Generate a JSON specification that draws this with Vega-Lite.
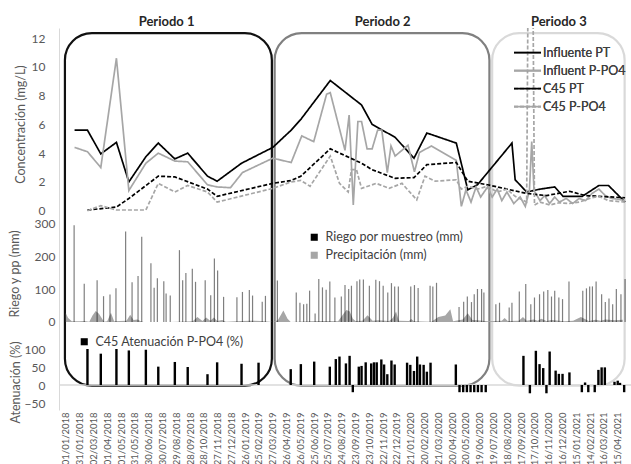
{
"$schema": "https://vega.github.io/schema/vega-lite/v6.json",
"width": 572, "height": 382,
"autosize": {"type": "none"},
"padding": {"left": 59, "top": 28, "right": 0, "bottom": 54},
"config": {
  "view": {"stroke": null},
  "font": "Lato",
  "axis": {"labelFont": "Lato", "titleFont": "Lato", "labelColor": "#595959", "titleColor": "#595959", "titleFontWeight": "normal", "grid": false, "ticks": false, "labelFontSize": 12, "titleFontSize": 12.5},
  "axisX": {"labelOverlap": false, "labelFlush": false, "labelBound": false, "labelAngle": -90, "labelFontSize": 9.5, "labelPadding": 2, "domain": false, "ticks": false},
  "legend": {"labelFont": "Lato", "labelColor": "#404040", "labelFontSize": 12.5, "padding": 0}
},
"datasets": {
  "conc": [
    {"f":"2018-01-20","s":"Influente PT","v":5.6},{"f":"2018-02-17","s":"Influente PT","v":5.6},{"f":"2018-03-18","s":"Influente PT","v":3.95},{"f":"2018-04-21","s":"Influente PT","v":4.75},{"f":"2018-05-18","s":"Influente PT","v":2.0},{"f":"2018-06-24","s":"Influente PT","v":3.75},{"f":"2018-07-21","s":"Influente PT","v":4.7},{"f":"2018-08-26","s":"Influente PT","v":3.6},{"f":"2018-09-23","s":"Influente PT","v":4.0},{"f":"2018-11-05","s":"Influente PT","v":2.4},{"f":"2018-11-26","s":"Influente PT","v":2.05},{"f":"2019-01-18","s":"Influente PT","v":3.3},{"f":"2019-03-27","s":"Influente PT","v":4.4},{"f":"2019-05-06","s":"Influente PT","v":5.6},{"f":"2019-05-27","s":"Influente PT","v":6.35},{"f":"2019-07-30","s":"Influente PT","v":9.05},{"f":"2019-10-06","s":"Influente PT","v":7.35},{"f":"2019-10-29","s":"Influente PT","v":6.0},{"f":"2019-12-18","s":"Influente PT","v":5.1},{"f":"2020-01-28","s":"Influente PT","v":3.65},{"f":"2020-02-25","s":"Influente PT","v":5.4},{"f":"2020-04-29","s":"Influente PT","v":4.7},{"f":"2020-05-24","s":"Influente PT","v":1.45},{"f":"2020-06-14","s":"Influente PT","v":1.8},{"f":"2020-08-28","s":"Influente PT","v":4.7},{"f":"2020-09-04","s":"Influente PT","v":2.15},{"f":"2020-09-29","s":"Influente PT","v":1.3},{"f":"2020-10-28","s":"Influente PT","v":1.5},{"f":"2020-11-29","s":"Influente PT","v":1.65},{"f":"2020-12-17","s":"Influente PT","v":1.0},{"f":"2021-01-28","s":"Influente PT","v":1.0},{"f":"2021-03-05","s":"Influente PT","v":1.75},{"f":"2021-03-26","s":"Influente PT","v":1.75},{"f":"2021-05-01","s":"Influente PT","v":0.6},
    {"f":"2018-01-20","s":"Influent P-PO4","v":4.4},{"f":"2018-02-17","s":"Influent P-PO4","v":4.1},{"f":"2018-03-18","s":"Influent P-PO4","v":3.0},{"f":"2018-04-21","s":"Influent P-PO4","v":10.6},{"f":"2018-05-18","s":"Influent P-PO4","v":1.4},{"f":"2018-06-24","s":"Influent P-PO4","v":3.3},{"f":"2018-07-21","s":"Influent P-PO4","v":4.0},{"f":"2018-08-26","s":"Influent P-PO4","v":3.45},{"f":"2018-09-23","s":"Influent P-PO4","v":3.4},{"f":"2018-11-05","s":"Influent P-PO4","v":1.8},{"f":"2018-11-26","s":"Influent P-PO4","v":1.65},{"f":"2018-12-25","s":"Influent P-PO4","v":1.6},{"f":"2019-01-20","s":"Influent P-PO4","v":2.65},{"f":"2019-03-27","s":"Influent P-PO4","v":3.65},{"f":"2019-05-06","s":"Influent P-PO4","v":3.35},{"f":"2019-05-29","s":"Influent P-PO4","v":5.2},{"f":"2019-06-24","s":"Influent P-PO4","v":4.8},{"f":"2019-07-22","s":"Influent P-PO4","v":8.1},{"f":"2019-07-30","s":"Influent P-PO4","v":8.2},{"f":"2019-08-31","s":"Influent P-PO4","v":4.2},{"f":"2019-09-09","s":"Influent P-PO4","v":6.65},{"f":"2019-09-18","s":"Influent P-PO4","v":0.4},{"f":"2019-09-28","s":"Influent P-PO4","v":6.2},{"f":"2019-10-06","s":"Influent P-PO4","v":6.2},{"f":"2019-10-18","s":"Influent P-PO4","v":4.3},{"f":"2019-10-29","s":"Influent P-PO4","v":4.3},{"f":"2019-11-10","s":"Influent P-PO4","v":5.6},{"f":"2019-11-19","s":"Influent P-PO4","v":5.6},{"f":"2019-12-01","s":"Influent P-PO4","v":2.65},{"f":"2019-12-09","s":"Influent P-PO4","v":4.5},{"f":"2019-12-18","s":"Influent P-PO4","v":3.8},{"f":"2020-01-15","s":"Influent P-PO4","v":4.55},{"f":"2020-01-29","s":"Influent P-PO4","v":2.7},{"f":"2020-02-09","s":"Influent P-PO4","v":4.05},{"f":"2020-03-06","s":"Influent P-PO4","v":4.5},{"f":"2020-04-29","s":"Influent P-PO4","v":3.5},{"f":"2020-05-10","s":"Influent P-PO4","v":0.3},{"f":"2020-05-20","s":"Influent P-PO4","v":1.45},{"f":"2020-05-31","s":"Influent P-PO4","v":0.6},{"f":"2020-06-11","s":"Influent P-PO4","v":1.65},{"f":"2020-06-21","s":"Influent P-PO4","v":0.95},{"f":"2020-07-06","s":"Influent P-PO4","v":1.65},{"f":"2020-07-16","s":"Influent P-PO4","v":0.95},{"f":"2020-07-27","s":"Influent P-PO4","v":1.5},{"f":"2020-08-06","s":"Influent P-PO4","v":0.7},{"f":"2020-08-17","s":"Influent P-PO4","v":1.3},{"f":"2020-09-01","s":"Influent P-PO4","v":0.5},{"f":"2020-09-15","s":"Influent P-PO4","v":0.95},{"f":"2020-09-26","s":"Influent P-PO4","v":0.3},{"f":"2020-10-05","s":"Influent P-PO4","v":1.4},{"f":"2020-10-10","s":"Influent P-PO4","v":4.8},{"f":"2020-10-15","s":"Influent P-PO4","v":1.4},{"f":"2020-10-28","s":"Influent P-PO4","v":0.7},{"f":"2020-11-07","s":"Influent P-PO4","v":1.05},{"f":"2020-11-18","s":"Influent P-PO4","v":0.5},{"f":"2020-11-29","s":"Influent P-PO4","v":0.95},{"f":"2020-12-09","s":"Influent P-PO4","v":0.6},{"f":"2020-12-24","s":"Influent P-PO4","v":0.85},{"f":"2021-01-07","s":"Influent P-PO4","v":0.5},{"f":"2021-01-21","s":"Influent P-PO4","v":0.85},{"f":"2021-02-04","s":"Influent P-PO4","v":0.7},{"f":"2021-02-18","s":"Influent P-PO4","v":1.2},{"f":"2021-03-05","s":"Influent P-PO4","v":1.5},{"f":"2021-03-19","s":"Influent P-PO4","v":1.05},{"f":"2021-04-02","s":"Influent P-PO4","v":0.85},{"f":"2021-04-16","s":"Influent P-PO4","v":0.8},{"f":"2021-05-01","s":"Influent P-PO4","v":0.7},
    {"f":"2018-02-17","s":"C45 PT","v":0.05},{"f":"2018-04-21","s":"C45 PT","v":0.25},{"f":"2018-05-18","s":"C45 PT","v":0.85},{"f":"2018-07-21","s":"C45 PT","v":2.4},{"f":"2018-08-26","s":"C45 PT","v":2.35},{"f":"2018-11-05","s":"C45 PT","v":1.5},{"f":"2018-11-26","s":"C45 PT","v":1.0},{"f":"2019-03-27","s":"C45 PT","v":1.9},{"f":"2019-05-06","s":"C45 PT","v":2.1},{"f":"2019-05-27","s":"C45 PT","v":2.4},{"f":"2019-07-30","s":"C45 PT","v":4.3},{"f":"2019-10-06","s":"C45 PT","v":3.3},{"f":"2019-10-29","s":"C45 PT","v":2.85},{"f":"2019-12-18","s":"C45 PT","v":2.25},{"f":"2020-01-28","s":"C45 PT","v":2.3},{"f":"2020-02-25","s":"C45 PT","v":3.2},{"f":"2020-04-29","s":"C45 PT","v":3.35},{"f":"2020-05-24","s":"C45 PT","v":2.05},{"f":"2020-07-06","s":"C45 PT","v":1.8},{"f":"2020-09-29","s":"C45 PT","v":1.2},{"f":"2020-11-11","s":"C45 PT","v":1.05},{"f":"2020-12-31","s":"C45 PT","v":1.35},{"f":"2021-02-04","s":"C45 PT","v":1.05},{"f":"2021-05-01","s":"C45 PT","v":0.9},
    {"f":"2018-02-17","s":"C45 P-PO4","v":0.0},{"f":"2018-03-18","s":"C45 P-PO4","v":0.35},{"f":"2018-04-21","s":"C45 P-PO4","v":0.05},{"f":"2018-05-18","s":"C45 P-PO4","v":0.05},{"f":"2018-06-24","s":"C45 P-PO4","v":0.05},{"f":"2018-07-21","s":"C45 P-PO4","v":1.9},{"f":"2018-08-26","s":"C45 P-PO4","v":1.3},{"f":"2018-09-23","s":"C45 P-PO4","v":1.75},{"f":"2018-11-05","s":"C45 P-PO4","v":1.3},{"f":"2018-11-26","s":"C45 P-PO4","v":0.6},{"f":"2019-03-27","s":"C45 P-PO4","v":1.55},{"f":"2019-05-06","s":"C45 P-PO4","v":2.0},{"f":"2019-05-27","s":"C45 P-PO4","v":2.1},{"f":"2019-06-16","s":"C45 P-PO4","v":1.7},{"f":"2019-07-30","s":"C45 P-PO4","v":3.8},{"f":"2019-08-19","s":"C45 P-PO4","v":1.9},{"f":"2019-09-07","s":"C45 P-PO4","v":1.3},{"f":"2019-09-14","s":"C45 P-PO4","v":2.85},{"f":"2019-09-25","s":"C45 P-PO4","v":2.85},{"f":"2019-10-06","s":"C45 P-PO4","v":1.55},{"f":"2019-11-07","s":"C45 P-PO4","v":1.9},{"f":"2019-12-05","s":"C45 P-PO4","v":1.55},{"f":"2020-01-02","s":"C45 P-PO4","v":1.9},{"f":"2020-02-03","s":"C45 P-PO4","v":0.75},{"f":"2020-02-21","s":"C45 P-PO4","v":2.4},{"f":"2020-03-14","s":"C45 P-PO4","v":2.05},{"f":"2020-04-29","s":"C45 P-PO4","v":2.15},{"f":"2020-05-10","s":"C45 P-PO4","v":1.5},{"f":"2020-05-24","s":"C45 P-PO4","v":1.7},{"f":"2020-06-14","s":"C45 P-PO4","v":1.5},{"f":"2020-07-06","s":"C45 P-PO4","v":1.7},{"f":"2020-07-27","s":"C45 P-PO4","v":1.3},{"f":"2020-08-17","s":"C45 P-PO4","v":1.5},{"f":"2020-09-04","s":"C45 P-PO4","v":1.0},{"f":"2020-09-29","s":"C45 P-PO4","v":0.6},{"f":"2020-10-07","s":"C45 P-PO4","v":40},{"f":"2020-10-16","s":"C45 P-PO4","v":0.4},{"f":"2020-10-28","s":"C45 P-PO4","v":0.6},{"f":"2020-11-18","s":"C45 P-PO4","v":0.4},{"f":"2020-12-09","s":"C45 P-PO4","v":0.55},{"f":"2020-12-31","s":"C45 P-PO4","v":0.5},{"f":"2021-01-21","s":"C45 P-PO4","v":0.6},{"f":"2021-02-18","s":"C45 P-PO4","v":0.9},{"f":"2021-03-05","s":"C45 P-PO4","v":1.0},{"f":"2021-03-26","s":"C45 P-PO4","v":0.7},{"f":"2021-05-01","s":"C45 P-PO4","v":0.6}
  ],
  "riego": [
    {"f":"2018-01-19","mm":296},{"f":"2018-02-10","mm":117},{"f":"2018-03-10","mm":128},{"f":"2018-03-24","mm":79},{"f":"2018-04-07","mm":84},{"f":"2018-04-20","mm":103},{"f":"2018-05-11","mm":277},{"f":"2018-05-25","mm":122},{"f":"2018-06-07","mm":141},{"f":"2018-06-15","mm":261},{"f":"2018-07-05","mm":180},{"f":"2018-07-12","mm":105},{"f":"2018-07-19","mm":134},{"f":"2018-08-02","mm":125},{"f":"2018-08-07","mm":87},{"f":"2018-08-16","mm":81},{"f":"2018-09-05","mm":220},{"f":"2018-09-12","mm":128},{"f":"2018-09-19","mm":150},{"f":"2018-10-03","mm":163},{"f":"2018-10-10","mm":123},{"f":"2018-10-31","mm":128},{"f":"2018-11-12","mm":82},{"f":"2018-11-20","mm":194},{"f":"2018-11-27","mm":158},{"f":"2018-12-10","mm":77},{"f":"2019-01-08","mm":76},{"f":"2019-01-20","mm":92},{"f":"2019-02-04","mm":98},{"f":"2019-02-11","mm":81},{"f":"2019-03-04","mm":62},{"f":"2019-03-11","mm":80},
    {"f":"2019-04-06","mm":127},{"f":"2019-05-17","mm":90},{"f":"2019-05-25","mm":59},{"f":"2019-06-02","mm":54},{"f":"2019-06-09","mm":56},{"f":"2019-06-15","mm":96},{"f":"2019-06-27","mm":26},{"f":"2019-07-05","mm":132},{"f":"2019-07-13","mm":106},{"f":"2019-07-21","mm":99},{"f":"2019-07-29","mm":124},{"f":"2019-08-09","mm":75},{"f":"2019-08-23","mm":78},{"f":"2019-08-31","mm":113},{"f":"2019-09-08","mm":101},{"f":"2019-09-14","mm":111},{"f":"2019-09-26","mm":125},{"f":"2019-10-02","mm":130},{"f":"2019-10-10","mm":130},{"f":"2019-10-23","mm":111},{"f":"2019-11-06","mm":129},{"f":"2019-11-14","mm":125},{"f":"2019-11-22","mm":111},{"f":"2019-12-02","mm":90},{"f":"2019-12-10","mm":119},{"f":"2019-12-17","mm":109},{"f":"2019-12-25","mm":109},{"f":"2020-01-21","mm":109},{"f":"2020-01-29","mm":113},{"f":"2020-02-06","mm":104},{"f":"2020-03-03","mm":111},{"f":"2020-03-09","mm":109},{"f":"2020-03-17","mm":120},{"f":"2020-05-05","mm":46},{"f":"2020-05-15","mm":62},{"f":"2020-05-23","mm":78},{"f":"2020-06-01","mm":61},{"f":"2020-06-07","mm":85},{"f":"2020-06-14","mm":101},{"f":"2020-06-23","mm":101},{"f":"2020-06-28","mm":90},
    {"f":"2020-07-24","mm":54},{"f":"2020-08-01","mm":59},{"f":"2020-08-22","mm":44},{"f":"2020-08-28","mm":59},{"f":"2020-09-13","mm":93},{"f":"2020-09-27","mm":116},{"f":"2020-10-08","mm":54},{"f":"2020-10-16","mm":75},{"f":"2020-10-27","mm":85},{"f":"2020-11-05","mm":93},{"f":"2020-11-14","mm":98},{"f":"2020-11-22","mm":78},{"f":"2020-11-29","mm":96},{"f":"2020-12-08","mm":75},{"f":"2020-12-16","mm":70},{"f":"2020-12-30","mm":124},{"f":"2021-01-29","mm":96},{"f":"2021-02-06","mm":103},{"f":"2021-02-13","mm":109},{"f":"2021-02-19","mm":109},{"f":"2021-02-27","mm":124},{"f":"2021-03-11","mm":85},{"f":"2021-03-19","mm":61},{"f":"2021-03-27","mm":72},{"f":"2021-04-04","mm":54},{"f":"2021-04-12","mm":101},{"f":"2021-04-22","mm":85},{"f":"2021-05-01","mm":132}
  ],
  "pp": [
    {"f":"2018-01-01","mm":27},{"f":"2018-01-06","mm":12},{"f":"2018-01-14","mm":2},{"f":"2018-01-31","mm":2},{"f":"2018-02-10","mm":3},{"f":"2018-02-21","mm":1},{"f":"2018-02-28","mm":20},{"f":"2018-03-07","mm":34},{"f":"2018-03-14","mm":25},{"f":"2018-03-25","mm":1},{"f":"2018-04-01","mm":2},{"f":"2018-04-09","mm":28},{"f":"2018-04-16","mm":2},{"f":"2018-04-28","mm":3},{"f":"2018-05-13","mm":4},{"f":"2018-05-21","mm":22},{"f":"2018-05-28","mm":6},{"f":"2018-06-06","mm":8},{"f":"2018-06-12","mm":3},{"f":"2018-06-19","mm":0},{"f":"2018-07-20","mm":0},{"f":"2018-08-15","mm":0},{"f":"2018-10-04","mm":2},{"f":"2018-10-14","mm":15},{"f":"2018-10-25","mm":3},{"f":"2018-11-02","mm":14},{"f":"2018-11-11","mm":4},{"f":"2018-11-19","mm":14},{"f":"2018-11-26","mm":3},{"f":"2018-12-07","mm":6},{"f":"2018-12-15","mm":1},{"f":"2019-01-18","mm":3},{"f":"2019-02-09","mm":4},{"f":"2019-03-02","mm":3},{"f":"2019-03-27","mm":0},{"f":"2019-04-07","mm":5},{"f":"2019-04-19","mm":35},{"f":"2019-04-28","mm":10},{"f":"2019-05-05","mm":0},{"f":"2019-06-15","mm":2},{"f":"2019-07-15","mm":3},{"f":"2019-08-16","mm":2},{"f":"2019-08-27","mm":24},{"f":"2019-09-03","mm":37},{"f":"2019-09-10","mm":33},{"f":"2019-09-17","mm":10},{"f":"2019-09-23","mm":3},{"f":"2019-10-08","mm":4},{"f":"2019-10-19","mm":21},{"f":"2019-10-30","mm":4},{"f":"2019-11-11","mm":5},{"f":"2019-12-05","mm":3},{"f":"2019-12-13","mm":12},{"f":"2019-12-20","mm":32},{"f":"2019-12-26","mm":4},{"f":"2020-01-17","mm":3},{"f":"2020-01-22","mm":9},{"f":"2020-01-28","mm":2},{"f":"2020-03-06","mm":1},{"f":"2020-03-21","mm":15},{"f":"2020-04-05","mm":20},{"f":"2020-04-16","mm":39},{"f":"2020-04-22","mm":2},{"f":"2020-05-13","mm":8},{"f":"2020-05-24","mm":27},{"f":"2020-06-03","mm":6},{"f":"2020-06-14","mm":5},{"f":"2020-07-06","mm":2},{"f":"2020-08-06","mm":4},{"f":"2020-08-12","mm":12},{"f":"2020-08-19","mm":3},{"f":"2020-09-12","mm":4},{"f":"2020-09-21","mm":15},{"f":"2020-09-29","mm":4},{"f":"2020-10-14","mm":8},{"f":"2020-10-23","mm":4},{"f":"2020-10-31","mm":10},{"f":"2020-11-11","mm":3},{"f":"2020-11-22","mm":6},{"f":"2020-12-20","mm":2},{"f":"2021-01-08","mm":4},{"f":"2021-01-25","mm":15},{"f":"2021-02-11","mm":3},{"f":"2021-02-26","mm":7},{"f":"2021-03-09","mm":4},{"f":"2021-03-19","mm":8},{"f":"2021-04-09","mm":5},{"f":"2021-04-26","mm":7}
  ],
  "aten": [
    {"f":"2018-02-17","pct":100},{"f":"2018-03-18","pct":87},{"f":"2018-04-21","pct":100},{"f":"2018-05-18","pct":96},{"f":"2018-06-24","pct":98},{"f":"2018-07-21","pct":51},{"f":"2018-08-26","pct":64},{"f":"2018-09-23","pct":50},{"f":"2018-11-05","pct":30},{"f":"2018-11-26","pct":63},{"f":"2019-01-18","pct":59},{"f":"2019-02-24","pct":62},
    {"f":"2019-05-05","pct":44},{"f":"2019-05-27","pct":58},{"f":"2019-06-25","pct":65},{"f":"2019-07-29","pct":51},{"f":"2019-08-11","pct":72},{"f":"2019-08-19","pct":79},{"f":"2019-09-02","pct":60},{"f":"2019-09-10","pct":81},{"f":"2019-09-17","pct":-20},{"f":"2019-09-30","pct":51},{"f":"2019-10-06","pct":53},{"f":"2019-10-15","pct":63},{"f":"2019-10-27","pct":60},{"f":"2019-11-02","pct":63},{"f":"2019-11-08","pct":63},{"f":"2019-11-18","pct":71},{"f":"2019-11-24","pct":57},{"f":"2019-12-01","pct":30},{"f":"2019-12-10","pct":68},{"f":"2019-12-17","pct":57},{"f":"2020-01-13","pct":62},{"f":"2020-01-20","pct":56},{"f":"2020-01-28","pct":39},{"f":"2020-02-04","pct":79},{"f":"2020-02-10","pct":57},{"f":"2020-02-18","pct":56},{"f":"2020-02-25","pct":37},{"f":"2020-03-04","pct":62},{"f":"2020-04-28","pct":57},{"f":"2020-05-06","pct":-20},{"f":"2020-05-14","pct":-20},{"f":"2020-05-22","pct":-20},{"f":"2020-05-30","pct":-20},{"f":"2020-06-07","pct":-20},{"f":"2020-06-15","pct":-20},{"f":"2020-06-23","pct":-20},{"f":"2020-07-02","pct":-20},
    {"f":"2020-09-22","pct":81},{"f":"2020-10-06","pct":-23},{"f":"2020-10-19","pct":95},{"f":"2020-10-27","pct":58},{"f":"2020-11-04","pct":47},{"f":"2020-11-11","pct":-23},{"f":"2020-11-18","pct":93},{"f":"2020-12-01","pct":40},{"f":"2020-12-08","pct":31},{"f":"2020-12-16","pct":31},{"f":"2020-12-31","pct":35},{"f":"2021-01-27","pct":-20},{"f":"2021-02-03","pct":7},{"f":"2021-02-10","pct":-20},{"f":"2021-02-24","pct":-20},{"f":"2021-03-04","pct":42},{"f":"2021-03-11","pct":49},{"f":"2021-03-18","pct":49},{"f":"2021-04-08","pct":9},{"f":"2021-04-15","pct":12},{"f":"2021-04-20","pct":6},{"f":"2021-04-29","pct":-20}
  ],
  "periodos": [
    {"p":"Periodo 1","i":"2017-12-30","fin":"2019-03-25","c":"2018-08-08"},
    {"p":"Periodo 2","i":"2019-03-31","fin":"2020-07-10","c":"2019-11-21"},
    {"p":"Periodo 3","i":"2020-07-16","fin":"2021-04-30","c":"2020-12-08"}
  ]
},
"resolve": {"scale": {"y": "independent", "color": "independent"}},
"layer": [
  {
    "layer": [
      {
        "data": {"name": "periodos"},
        "mark": {"type": "rect", "fill": "#ffffff", "fillOpacity": 0, "strokeWidth": 2.2, "cornerRadius": 27},
        "encoding": {
          "x": {"field": "i", "type": "temporal", "scale": {"type": "utc", "domain": [1514419200000, 1620000000000]}, "title": null},
          "x2": {"field": "fin"},
          "y": {"datum": 12.34, "scale": {"domain": [-13.854, 12.7]}},
          "y2": {"datum": -12.16},
          "stroke": {"field": "p", "type": "nominal", "scale": {"domain": ["Periodo 1", "Periodo 2", "Periodo 3"], "range": ["#111111", "#808080", "#d9d9d9"]}, "legend": null}
        }
      },
      {
        "data": {"name": "periodos"},
        "mark": {"type": "text", "font": "Lato", "fontSize": 13, "fontWeight": "bold", "color": "#262626"},
        "encoding": {
          "x": {"field": "c", "type": "temporal", "scale": {"type": "utc", "domain": [1514419200000, 1620000000000]}, "title": null},
          "y": {"datum": 13.12, "scale": {"domain": [-13.854, 12.7]}},
          "text": {"field": "p"}
        }
      },
      {
        "data": {"name": "conc"},
        "mark": {"type": "line", "strokeWidth": 1.7, "clip": true},
        "encoding": {
          "x": {"field": "f", "type": "temporal", "scale": {"type": "utc", "domain": [1514419200000, 1620000000000]}, "title": null},
          "y": {"field": "v", "type": "quantitative", "scale": {"domain": [-13.854, 12.7]},
                "axis": {"orient": "left", "values": [0, 2, 4, 6, 8, 10, 12], "tickCount": 20, "title": "Concentración (mg/L)", "labelPadding": 14, "titleX": -32, "titleY": 96, "domain": false}},
          "color": {"field": "s", "type": "nominal", "scale": {"domain": ["Influente PT", "Influent P-PO4", "C45 PT", "C45 P-PO4"], "range": ["#000000", "#a6a6a6", "#000000", "#a6a6a6"]},
                    "legend": {"title": null, "orient": "none", "legendX": 454, "legendY": 16.7, "symbolType": "stroke", "symbolSize": 729, "clipHeight": 16, "symbolStrokeWidth": 1.8, "labelOffset": 1, "rowPadding": 2}},
          "strokeDash": {"field": "s", "type": "nominal", "scale": {"domain": ["Influente PT", "Influent P-PO4", "C45 PT", "C45 P-PO4"], "range": [[1, 0], [1, 0], [4, 2], [4, 2]]},
                    "legend": {"title": null, "orient": "none", "legendX": 454, "legendY": 16.7, "symbolType": "stroke", "symbolSize": 729, "clipHeight": 16, "symbolStrokeWidth": 1.8, "labelOffset": 1, "rowPadding": 2}}
        }
      }
    ]
  },
  {
    "layer": [
      {
        "data": {"name": "pp"},
        "mark": {"type": "area", "interpolate": "linear"},
        "encoding": {
          "x": {"field": "f", "type": "temporal", "scale": {"type": "utc", "domain": [1514419200000, 1620000000000]}, "title": null},
          "y": {"field": "mm", "type": "quantitative", "scale": {"domain": [-269.4, 900]}},
          "color": {"datum": "Precipitación (mm)", "scale": {"domain": ["Riego por muestreo (mm)", "Precipitación (mm)"], "range": ["#000000", "#a6a6a6"]}}
        }
      },
      {
        "data": {"name": "riego"},
        "mark": {"type": "bar", "size": 1.2, "fillOpacity": 0.5},
        "encoding": {
          "x": {"field": "f", "type": "temporal", "scale": {"type": "utc", "domain": [1514419200000, 1620000000000]}, "title": null},
          "y": {"field": "mm", "type": "quantitative", "scale": {"domain": [-269.4, 900]},
                "axis": {"orient": "left", "values": [0, 100, 200, 300], "tickCount": 20, "title": "Riego y pp (mm)", "labelPadding": 4, "titleX": -38, "titleY": 245.5, "domain": false}},
          "color": {"datum": "Riego por muestreo (mm)", "scale": {"domain": ["Riego por muestreo (mm)", "Precipitación (mm)"], "range": ["#000000", "#a6a6a6"]},
                    "legend": {"title": null, "orient": "none", "legendX": 249, "legendY": 203, "symbolType": "square", "symbolSize": 50, "symbolStrokeWidth": 0, "symbolOpacity": 1, "labelOffset": 5, "rowPadding": 5}}
        }
      }
    ]
  },
  {
    "layer": [
      {
        "data": {"values": [{}]},
        "mark": {"type": "rule", "color": "#d9d9d9", "strokeWidth": 1.5},
        "encoding": {
          "y": {"datum": 0, "scale": {"domain": [-69.44, 991.67]}}
        }
      },
      {
        "data": {"name": "aten"},
        "mark": {"type": "bar", "size": 2.4},
        "encoding": {
          "x": {"field": "f", "type": "temporal", "scale": {"type": "utc", "domain": [1514419200000, 1620000000000]}, "title": null,
                "axis": {"values": [1514764800000,1517356800000,1519948800000,1522540800000,1525132800000,1527724800000,1530316800000,1532908800000,1535500800000,1538092800000,1540684800000,1543276800000,1545868800000,1548460800000,1551052800000,1553644800000,1556236800000,1558828800000,1561420800000,1564012800000,1566604800000,1569196800000,1571788800000,1574380800000,1576972800000,1579564800000,1582156800000,1584748800000,1587340800000,1589932800000,1592524800000,1595116800000,1597708800000,1600300800000,1602892800000,1605484800000,1608076800000,1610668800000,1613260800000,1615852800000,1618444800000],
                         "tickCount": 60, "labelAngle": -90, "labelExpr": "utcFormat(datum.value, '%d/%m/%Y')", "labelFontSize": 9.5, "labelPadding": 2, "domain": false, "ticks": false, "labelOverlap": false, "labelFlush": false, "labelBound": false}},
          "y": {"field": "pct", "type": "quantitative", "scale": {"domain": [-69.44, 991.67]},
                "axis": {"orient": "left", "values": [-50, 0, 50, 100], "tickCount": 20, "title": "Atenuación (%)", "labelPadding": 14, "titleX": -37, "titleY": 354, "domain": true, "domainColor": "#d9d9d9"}},
          "color": {"datum": "C45 Atenuación P-PO4 (%)", "scale": {"domain": ["C45 Atenuación P-PO4 (%)"], "range": ["#000000"]},
                    "legend": {"title": null, "orient": "none", "legendX": 19, "legendY": 307.5, "symbolType": "square", "symbolSize": 50, "symbolStrokeWidth": 0, "labelOffset": 5}}
        }
      }
    ]
  }
]
}
